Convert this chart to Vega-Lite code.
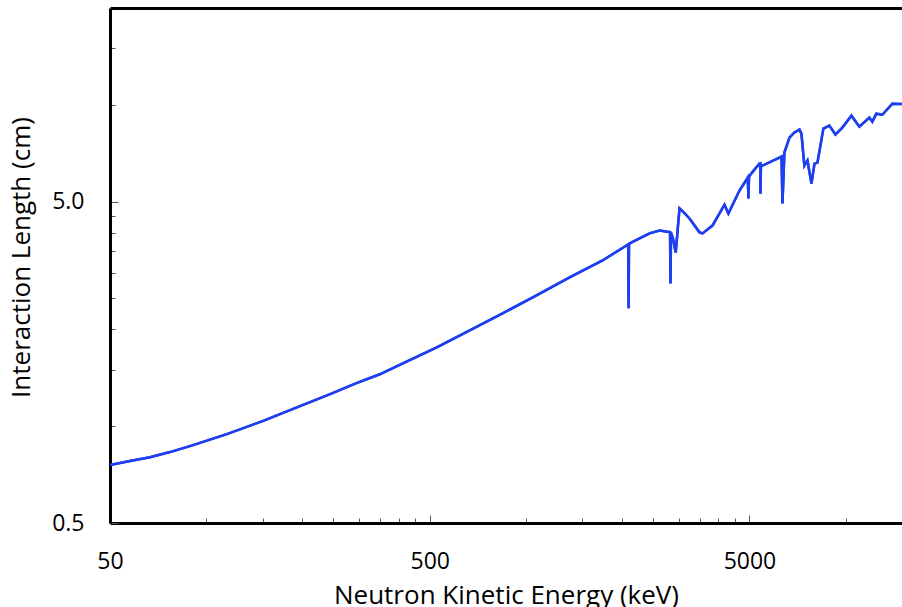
{
  "$schema": "https://vega.github.io/schema/vega-lite/v6.json",
  "autosize": {"type": "none"},
  "padding": {"left": 110, "top": 8, "right": 0, "bottom": 84},
  "width": 792,
  "height": 515,
  "background": "white",
  "config": {
    "view": {"stroke": null},
    "font": "Open Sans",
    "axis": {"grid": false, "labelFont": "Open Sans", "titleFont": "Open Sans", "labelColor": "black", "titleColor": "black", "titleFontWeight": "normal"}
  },
  "data": {
    "values": [
      {"energy_keV": 50, "length_cm": 0.757},
      {"energy_keV": 57.7, "length_cm": 0.779},
      {"energy_keV": 66.7, "length_cm": 0.801},
      {"energy_keV": 77, "length_cm": 0.831},
      {"energy_keV": 88.9, "length_cm": 0.867},
      {"energy_keV": 116, "length_cm": 0.945},
      {"energy_keV": 150, "length_cm": 1.037},
      {"energy_keV": 200, "length_cm": 1.163},
      {"energy_keV": 243, "length_cm": 1.257},
      {"energy_keV": 295, "length_cm": 1.361},
      {"energy_keV": 349, "length_cm": 1.451},
      {"energy_keV": 412, "length_cm": 1.57},
      {"energy_keV": 526, "length_cm": 1.76},
      {"energy_keV": 667, "length_cm": 1.988},
      {"energy_keV": 845, "length_cm": 2.245},
      {"energy_keV": 1079, "length_cm": 2.553},
      {"energy_keV": 1369, "length_cm": 2.903},
      {"energy_keV": 1736, "length_cm": 3.279},
      {"energy_keV": 2063, "length_cm": 3.65},
      {"energy_keV": 2088, "length_cm": 3.68},
      {"energy_keV": 2094, "length_cm": 2.33},
      {"energy_keV": 2100, "length_cm": 3.69},
      {"energy_keV": 2140, "length_cm": 3.73},
      {"energy_keV": 2435, "length_cm": 3.98},
      {"energy_keV": 2616, "length_cm": 4.06},
      {"energy_keV": 2771, "length_cm": 4.03},
      {"energy_keV": 2822, "length_cm": 4.02},
      {"energy_keV": 2832, "length_cm": 2.78},
      {"energy_keV": 2842, "length_cm": 4.0},
      {"energy_keV": 2880, "length_cm": 3.85},
      {"energy_keV": 2940, "length_cm": 3.47},
      {"energy_keV": 3021, "length_cm": 4.76},
      {"energy_keV": 3100, "length_cm": 4.65},
      {"energy_keV": 3247, "length_cm": 4.43},
      {"energy_keV": 3490, "length_cm": 4.01},
      {"energy_keV": 3565, "length_cm": 3.98},
      {"energy_keV": 3831, "length_cm": 4.21},
      {"energy_keV": 4177, "length_cm": 4.89},
      {"energy_keV": 4296, "length_cm": 4.59},
      {"energy_keV": 4653, "length_cm": 5.41},
      {"energy_keV": 4940, "length_cm": 5.94},
      {"energy_keV": 4964, "length_cm": 5.11},
      {"energy_keV": 4985, "length_cm": 5.98},
      {"energy_keV": 5185, "length_cm": 6.29},
      {"energy_keV": 5376, "length_cm": 6.56},
      {"energy_keV": 5405, "length_cm": 6.57},
      {"energy_keV": 5415, "length_cm": 5.29},
      {"energy_keV": 5430, "length_cm": 6.45},
      {"energy_keV": 5492, "length_cm": 6.47},
      {"energy_keV": 6206, "length_cm": 6.85},
      {"energy_keV": 6300, "length_cm": 6.9},
      {"energy_keV": 6342, "length_cm": 4.93},
      {"energy_keV": 6431, "length_cm": 7.1},
      {"energy_keV": 6669, "length_cm": 7.9},
      {"energy_keV": 6911, "length_cm": 8.2},
      {"energy_keV": 7166, "length_cm": 8.37},
      {"energy_keV": 7270, "length_cm": 8.13},
      {"energy_keV": 7426, "length_cm": 6.47},
      {"energy_keV": 7592, "length_cm": 6.71},
      {"energy_keV": 7816, "length_cm": 5.69},
      {"energy_keV": 7987, "length_cm": 6.56},
      {"energy_keV": 8161, "length_cm": 6.61},
      {"energy_keV": 8515, "length_cm": 8.43},
      {"energy_keV": 8891, "length_cm": 8.61},
      {"energy_keV": 9284, "length_cm": 8.08},
      {"energy_keV": 9763, "length_cm": 8.49},
      {"energy_keV": 10420, "length_cm": 9.25},
      {"energy_keV": 11034, "length_cm": 8.55},
      {"energy_keV": 11856, "length_cm": 9.12},
      {"energy_keV": 12116, "length_cm": 8.86},
      {"energy_keV": 12470, "length_cm": 9.38},
      {"energy_keV": 13020, "length_cm": 9.31},
      {"energy_keV": 13994, "length_cm": 10.08},
      {"energy_keV": 15000, "length_cm": 10.05}
    ]
  },
  "layer": [
    {
      "mark": {"type": "line", "color": "#1d3ff0", "strokeWidth": 2.5, "clip": true},
      "encoding": {
        "x": {"field": "energy_keV", "type": "quantitative",
          "scale": {"type": "log", "domain": [50, 15000], "nice": false},
          "axis": {"orient": "bottom", "values": [100, 150, 200, 250, 300, 350, 400, 450, 1000, 1500, 2000, 2500, 3000, 3500, 4000, 4500, 10000],
            "labels": false, "domain": false, "title": null, "tickSize": -5, "tickColor": "#555555", "tickWidth": 1}},
        "y": {"field": "length_cm", "type": "quantitative",
          "scale": {"type": "log", "domain": [0.5, 20], "nice": false},
          "axis": {"orient": "left", "values": [1, 1.5, 2, 2.5, 3, 3.5, 4, 4.5, 10, 15],
            "labels": false, "domain": false, "title": null, "tickSize": -5, "tickColor": "#555555", "tickWidth": 1}}
      }
    },
    {
      "mark": {"type": "line", "color": "#1d3ff0", "strokeWidth": 2.5, "clip": true},
      "encoding": {
        "x": {"field": "energy_keV", "type": "quantitative",
          "axis": {"orient": "bottom", "values": [50, 500, 5000], "format": "d",
            "tickSize": -8, "tickColor": "#555555", "tickWidth": 1,
            "domain": true, "domainColor": "black", "domainWidth": 3,
            "labelFontSize": 23, "labelPadding": 35, "labelFlush": false,
            "title": "Neutron Kinetic Energy (keV)", "titleFontSize": 26,
            "titleBaseline": "alphabetic", "titleY": 80}},
        "y": {"field": "length_cm", "type": "quantitative",
          "axis": {"orient": "left", "values": [0.5, 5], "format": ".1f",
            "tickSize": -8, "tickColor": "#555555", "tickWidth": 1,
            "domain": true, "domainColor": "black", "domainWidth": 3,
            "labelFontSize": 23, "labelPadding": 34, "labelFlush": false,
            "title": "Interaction Length (cm)", "titleFontSize": 26,
            "titleBaseline": "alphabetic", "titleAngle": -90, "titleX": -81, "titleY": 249}}
      }
    },
    {
      "mark": {"type": "line", "opacity": 0},
      "encoding": {
        "x": {"field": "energy_keV", "type": "quantitative",
          "axis": {"orient": "top", "ticks": false, "labels": false, "title": null,
            "domain": true, "domainColor": "black", "domainWidth": 3}},
        "y": {"field": "length_cm", "type": "quantitative", "axis": null}
      }
    }
  ],
  "resolve": {"axis": {"x": "independent", "y": "independent"}}
}
